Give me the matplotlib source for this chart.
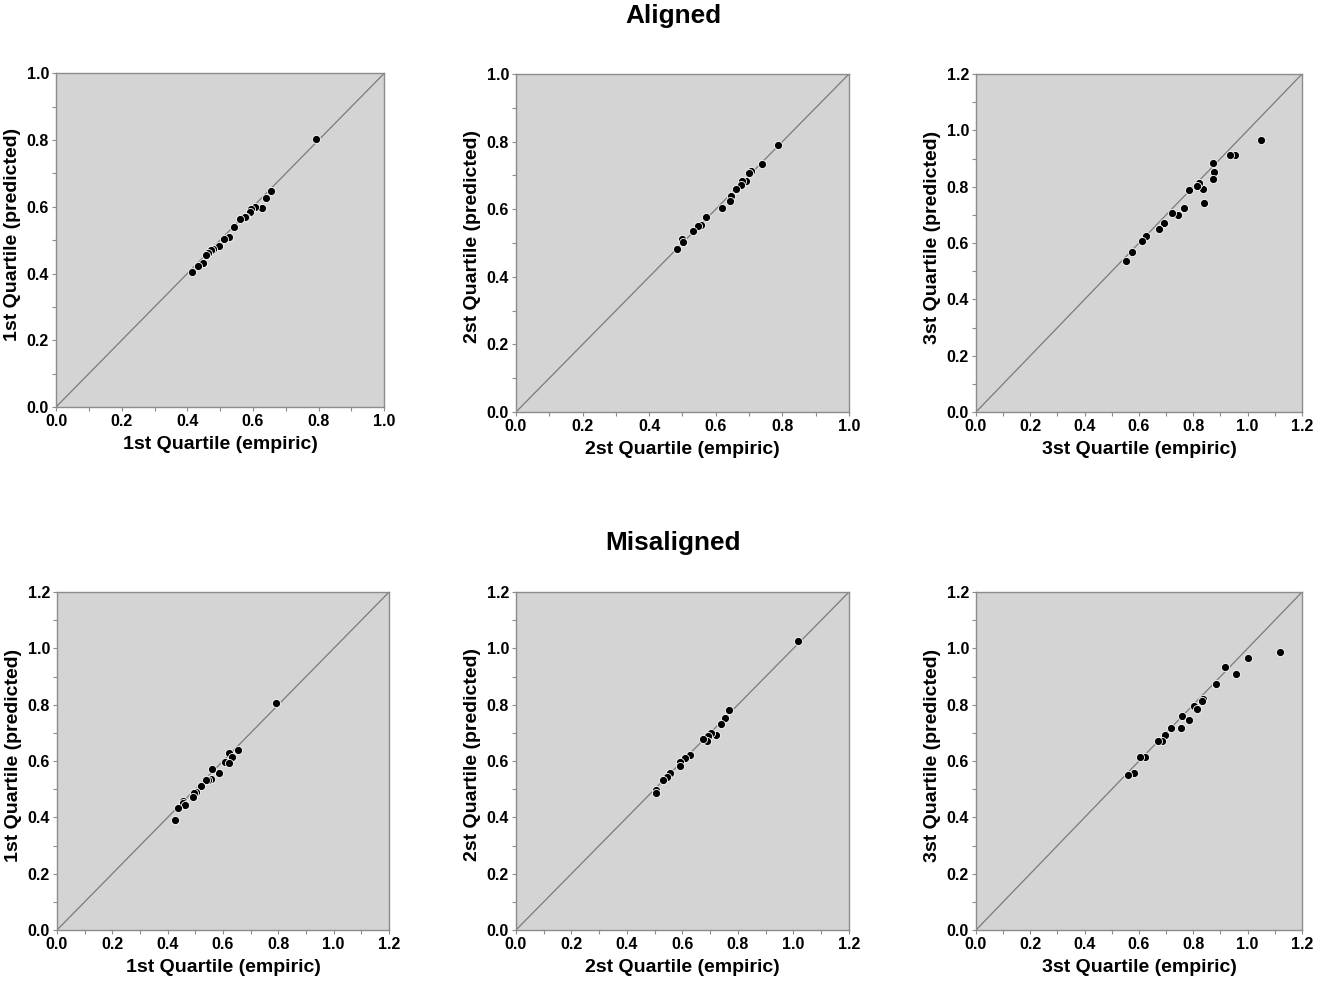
import numpy as np
import matplotlib
matplotlib.use('Agg')
import matplotlib.pyplot as plt
from matplotlib.ticker import MultipleLocator

plt.rcParams['font.family'] = ['Liberation Sans', 'DejaVu Sans']
plt.rcParams['font.weight'] = 'bold'

# Aligned, 1st quartile
a1_emp = [0.792, 0.655, 0.641, 0.626, 0.606, 0.593, 0.592, 0.578, 0.575, 0.559, 0.543,
          0.527, 0.512, 0.495, 0.479, 0.471, 0.464, 0.458, 0.449, 0.433, 0.414]
a1_pred = [0.803, 0.648, 0.625, 0.595, 0.599, 0.593, 0.584, 0.569, 0.569, 0.564, 0.540,
           0.510, 0.504, 0.482, 0.473, 0.470, 0.462, 0.455, 0.432, 0.422, 0.406]

# Aligned, 2nd quartile
a2_emp = [0.786, 0.739, 0.705, 0.699, 0.691, 0.678, 0.677, 0.660, 0.646, 0.643, 0.620,
          0.571, 0.555, 0.547, 0.531, 0.499, 0.501, 0.484]
a2_pred = [0.789, 0.734, 0.712, 0.706, 0.683, 0.683, 0.671, 0.660, 0.640, 0.624, 0.604,
           0.576, 0.553, 0.551, 0.535, 0.511, 0.502, 0.482]

# Aligned, 3rd quartile
a3_emp = [1.048, 0.953, 0.935, 0.874, 0.877, 0.874, 0.837, 0.839, 0.821, 0.815, 0.786,
          0.767, 0.742, 0.722, 0.693, 0.674, 0.626, 0.611, 0.575, 0.551]
a3_pred = [0.966, 0.914, 0.911, 0.885, 0.853, 0.826, 0.793, 0.741, 0.814, 0.803, 0.788,
           0.725, 0.698, 0.708, 0.671, 0.650, 0.625, 0.607, 0.567, 0.537]

# Misaligned, 1st quartile
m1_emp = [0.790, 0.653, 0.622, 0.632, 0.606, 0.622, 0.584, 0.560, 0.558, 0.546, 0.540,
          0.522, 0.501, 0.495, 0.493, 0.456, 0.454, 0.462, 0.438, 0.428]
m1_pred = [0.805, 0.641, 0.629, 0.615, 0.596, 0.593, 0.557, 0.571, 0.538, 0.534, 0.532,
           0.512, 0.490, 0.485, 0.473, 0.459, 0.451, 0.444, 0.433, 0.389]

# Misaligned, 2nd quartile
m2_emp = [1.015, 0.768, 0.754, 0.738, 0.720, 0.703, 0.693, 0.687, 0.674, 0.627, 0.609,
          0.593, 0.591, 0.555, 0.543, 0.531, 0.505, 0.505]
m2_pred = [1.027, 0.780, 0.754, 0.733, 0.693, 0.701, 0.689, 0.673, 0.677, 0.623, 0.611,
           0.596, 0.583, 0.558, 0.544, 0.534, 0.499, 0.488]

# Misaligned, 3rd quartile
m3_emp = [1.120, 1.001, 0.915, 0.958, 0.882, 0.835, 0.831, 0.801, 0.815, 0.757, 0.784,
          0.718, 0.753, 0.695, 0.686, 0.669, 0.621, 0.605, 0.580, 0.561]
m3_pred = [0.989, 0.966, 0.933, 0.908, 0.873, 0.819, 0.812, 0.797, 0.784, 0.760, 0.746,
           0.719, 0.719, 0.693, 0.673, 0.673, 0.615, 0.615, 0.559, 0.549]

names = ['1st', '2st', '3st']

panels = [
    # (x, y, axis max, rect)
    (a1_emp, a1_pred, 1.0, [0.0423, 0.5868, 0.2477, 0.3388]),
    (a2_emp, a2_pred, 1.0, [0.3894, 0.5817, 0.2513, 0.3431]),
    (a3_emp, a3_pred, 1.2, [0.7366, 0.5817, 0.2460, 0.3431]),
    (m1_emp, m1_pred, 1.2, [0.0430, 0.0558, 0.2506, 0.3431]),
    (m2_emp, m2_pred, 1.2, [0.3894, 0.0558, 0.2513, 0.3431]),
    (m3_emp, m3_pred, 1.2, [0.7366, 0.0558, 0.2460, 0.3431]),
]

fig = plt.figure(figsize=(13.25, 9.85), dpi=100)

for i, (xe, yp, top, rect) in enumerate(panels):
    ax = fig.add_axes(rect)
    ax.set_facecolor('#d4d4d4')
    ax.plot([0, top], [0, top], color='#7a7a7a', lw=0.9, zorder=1)
    ax.scatter(xe, yp, s=34, color='black', edgecolors='white', linewidths=0.6, zorder=3)
    ax.set_xlim(0, top)
    ax.set_ylim(0, top)
    ax.xaxis.set_major_locator(MultipleLocator(0.2))
    ax.yaxis.set_major_locator(MultipleLocator(0.2))
    ax.xaxis.set_minor_locator(MultipleLocator(0.1))
    ax.yaxis.set_minor_locator(MultipleLocator(0.1))
    ax.xaxis.set_major_formatter(plt.FormatStrFormatter('%.1f'))
    ax.yaxis.set_major_formatter(plt.FormatStrFormatter('%.1f'))
    for s in ax.spines.values():
        s.set_color('#8c8c8c')
        s.set_linewidth(1.0)
    ax.tick_params(which='both', direction='out', length=3, width=0.8, color='#8c8c8c',
                   labelsize=11.5, pad=2)
    for lab in ax.get_xticklabels() + ax.get_yticklabels():
        lab.set_fontweight('bold')
    q = names[i % 3]
    ax.set_xlabel(q + ' Quartile (empiric)', fontsize=14, fontweight='bold', labelpad=5)
    ax.set_ylabel(q + ' Quartile (predicted)', fontsize=14, fontweight='bold')
    # label sits a little above the axes centre, as in the original
    ax.yaxis.set_label_coords(-35 / (rect[2] * 1325), 0.518)

fig.text(0.508, 0.984, 'Aligned', ha='center', va='center', fontsize=18.8, fontweight='bold')
fig.text(0.508, 0.449, 'Misaligned', ha='center', va='center', fontsize=18.8, fontweight='bold')

plt.savefig('out.png', dpi=100)
